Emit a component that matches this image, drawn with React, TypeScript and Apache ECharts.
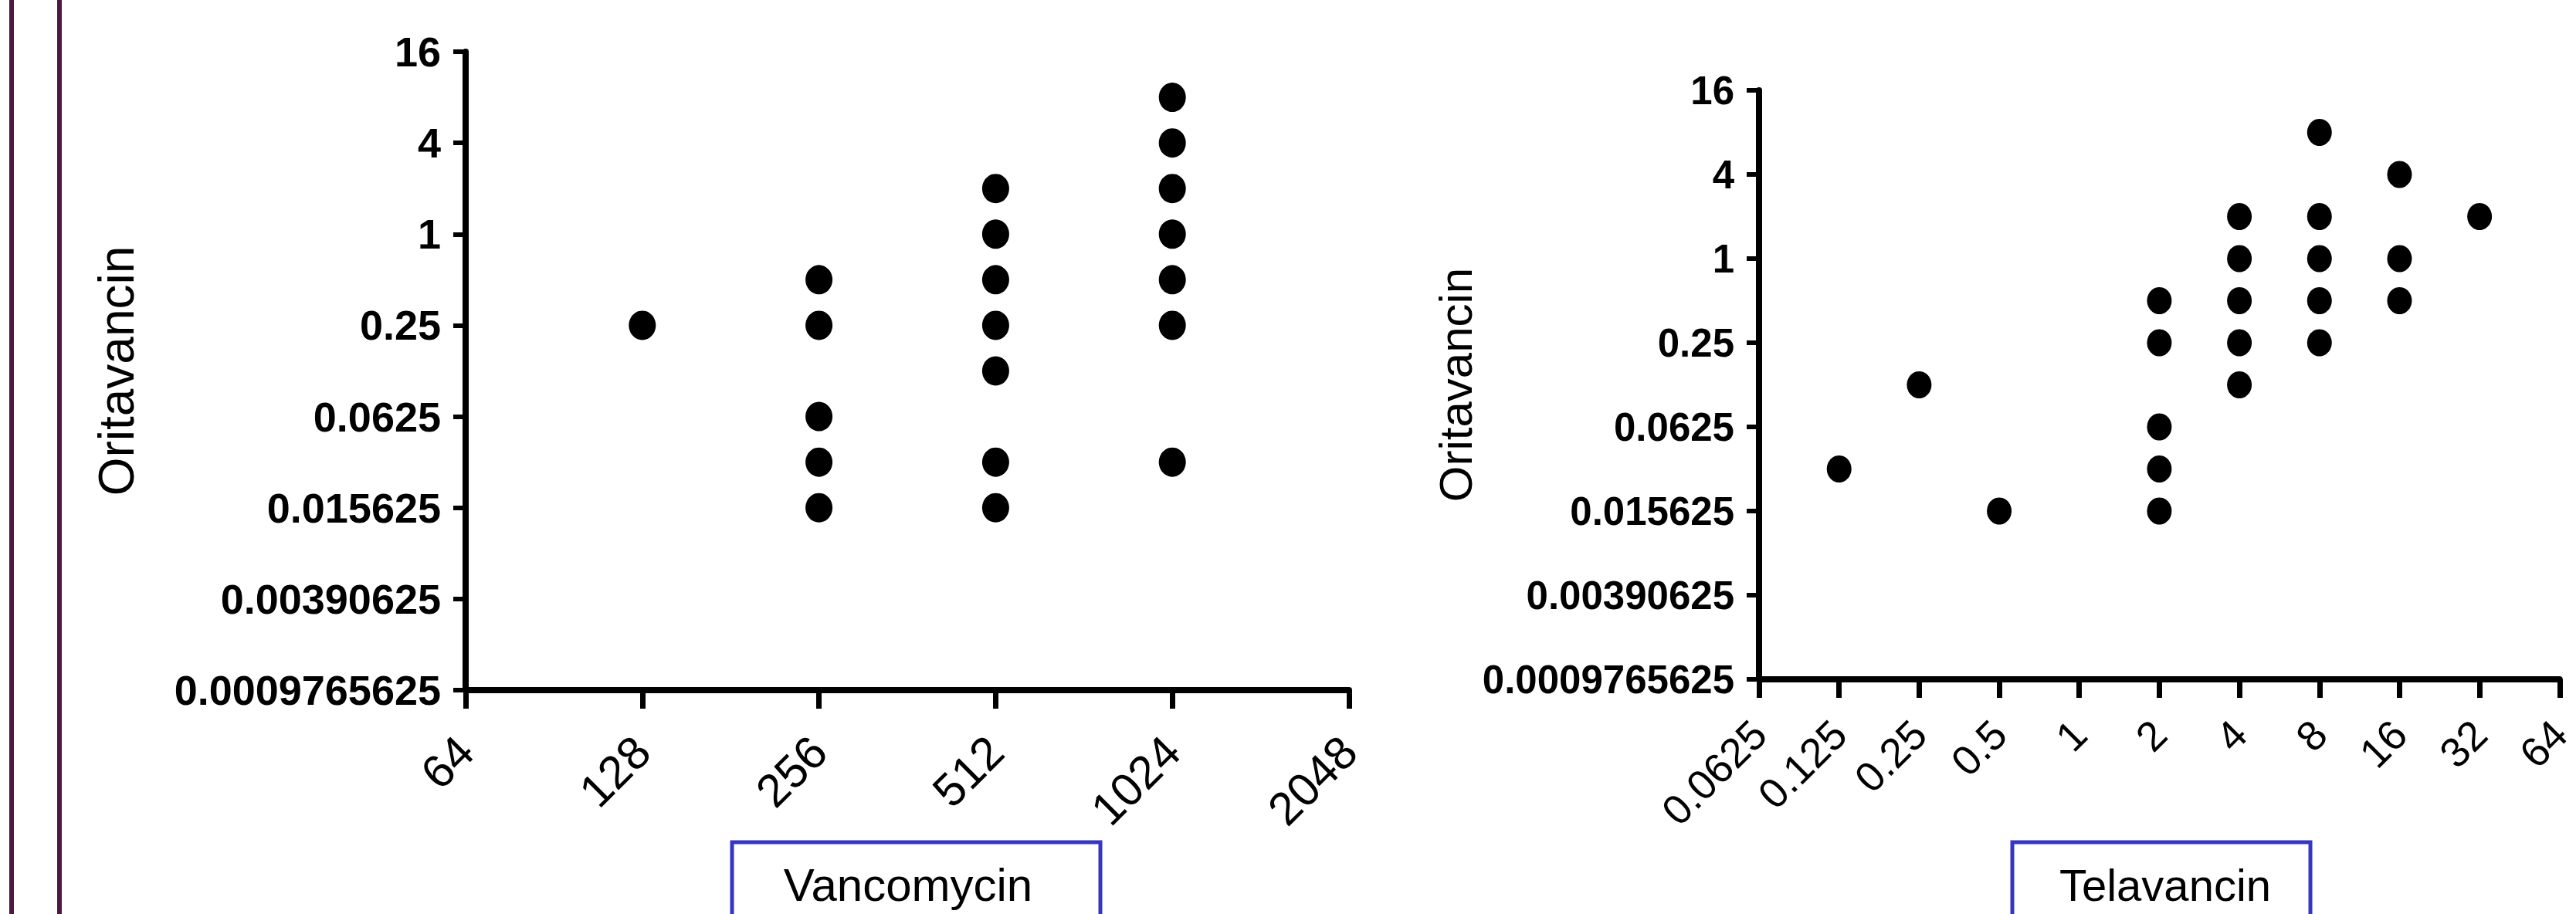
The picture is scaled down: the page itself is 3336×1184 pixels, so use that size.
import React, { useEffect, useRef } from "react";
import * as echarts from "echarts";

// Tick values and labels
const vancomycinTicks = [64, 128, 256, 512, 1024, 2048];
const vancomycinTickLabels = ["64", "128", "256", "512", "1024", "2048"];
const telavancinTicks = [0.0625, 0.125, 0.25, 0.5, 1, 2, 4, 8, 16, 32, 64];
const telavancinTickLabels = ["0.0625", "0.125", "0.25", "0.5", "1", "2", "4", "8", "16", "32", "64"];
const oritavancinTicks = [0.0009765625, 0.00390625, 0.015625, 0.0625, 0.25, 1, 4, 16];
const oritavancinTickLabels = ["0.0009765625", "0.00390625", "0.015625", "0.0625", "0.25", "1", "4", "16"];

// Left panel: Vancomycin MIC vs Oritavancin MIC
const vancomycinMIC = [
  128,
  256, 256, 256, 256, 256,
  512, 512, 512, 512, 512, 512, 512,
  1024, 1024, 1024, 1024, 1024, 1024, 1024,
];
const oritavancinVsVancomycin = [
  0.25,
  0.5, 0.25, 0.0625, 0.03125, 0.015625,
  2, 1, 0.5, 0.25, 0.125, 0.03125, 0.015625,
  8, 4, 2, 1, 0.5, 0.25, 0.03125,
];

// Right panel: Telavancin MIC vs Oritavancin MIC
const telavancinMIC = [
  0.125,
  0.25,
  0.5,
  2, 2, 2, 2, 2,
  4, 4, 4, 4, 4,
  8, 8, 8, 8, 8,
  16, 16, 16,
  32,
];
const oritavancinVsTelavancin = [
  0.03125,
  0.125,
  0.015625,
  0.5, 0.25, 0.0625, 0.03125, 0.015625,
  2, 1, 0.5, 0.25, 0.125,
  8, 2, 1, 0.5, 0.25,
  4, 1, 0.5,
  2,
];

const labelFor = (ticks: number[], labels: string[]) => (v: number) => {
  let best = 0;
  for (let i = 1; i < ticks.length; i++) {
    if (Math.abs(Math.log2(v) - Math.log2(ticks[i])) < Math.abs(Math.log2(v) - Math.log2(ticks[best]))) best = i;
  }
  return labels[best];
};

const SANS = "'Liberation Sans', Arial, sans-serif";

function yAxis(gridIndex: number, fontSize: number, nameSize: number, nameGap: number) {
  return {
    type: "log",
    logBase: 2,
    gridIndex,
    min: oritavancinTicks[0],
    max: oritavancinTicks[oritavancinTicks.length - 1],
    axisLine: { show: true, onZero: false, lineStyle: { color: "#000", width: 8 } },
    axisTick: { show: true, inside: false, length: 16, customValues: oritavancinTicks, lineStyle: { color: "#000", width: 6 } },
    axisLabel: {
      customValues: oritavancinTicks,
      formatter: labelFor(oritavancinTicks, oritavancinTickLabels),
      margin: 32,
      fontSize,
      fontWeight: "bold",
      fontFamily: SANS,
      color: "#000",
    },
    splitLine: { show: false },
    minorTick: { show: false },
    name: "Oritavancin",
    nameLocation: "middle",
    nameRotate: 90,
    nameGap,
    nameTextStyle: { fontSize: nameSize, fontFamily: SANS, color: "#000" },
  };
}

function xAxis(gridIndex: number, ticks: number[], labels: string[], fontSize: number, margin: number) {
  return {
    type: "log",
    logBase: 2,
    gridIndex,
    min: ticks[0],
    max: ticks[ticks.length - 1],
    axisLine: { show: true, onZero: false, lineStyle: { color: "#000", width: 8 } },
    axisTick: { show: true, inside: false, length: 24, customValues: ticks, lineStyle: { color: "#000", width: 7 } },
    axisLabel: {
      customValues: ticks,
      formatter: labelFor(ticks, labels),
      rotate: 45,
      margin,
      fontSize,
      fontFamily: SANS,
      color: "#000",
    },
    splitLine: { show: false },
    minorTick: { show: false },
  };
}

export default function App() {
  const ref = useRef<HTMLDivElement>(null);
  useEffect(() => {
    document.body.style.margin = "0";
    if (!ref.current) return;
    const chart = echarts.init(ref.current, null, { renderer: "svg" });
    const leftData = vancomycinMIC.map((x, i) => [x, oritavancinVsVancomycin[i]]);
    const rightData = telavancinMIC.map((x, i) => [x, oritavancinVsTelavancin[i]]);
    chart.setOption({
      animation: false,
      backgroundColor: "#fff",
      grid: [
        { left: 603, top: 67, width: 1144, height: 827, containLabel: false },
        { left: 2278, top: 117, width: 1056, height: 763, containLabel: false },
      ],
      xAxis: [
        xAxis(0, vancomycinTicks, vancomycinTickLabels, 60, 70),
        xAxis(1, telavancinTicks, telavancinTickLabels, 54, 62),
      ],
      yAxis: [yAxis(0, 54, 64, 420), yAxis(1, 51, 60, 354)],
      series: [
        {
          type: "scatter",
          name: "Vancomycin",
          xAxisIndex: 0,
          yAxisIndex: 0,
          data: leftData,
          symbol: "circle",
          symbolSize: [35, 38],
          itemStyle: { color: "#000", opacity: 1 },
        },
        {
          type: "scatter",
          name: "Telavancin",
          xAxisIndex: 1,
          yAxisIndex: 1,
          data: rightData,
          symbol: "circle",
          symbolSize: [32, 35],
          itemStyle: { color: "#000", opacity: 1 },
        },
      ],
      graphic: [
        { type: "line", shape: { x1: 15, y1: 0, x2: 15, y2: 1184 }, style: { stroke: "#52173f", lineWidth: 6 } },
        { type: "line", shape: { x1: 77, y1: 0, x2: 77, y2: 1184 }, style: { stroke: "#52173f", lineWidth: 6 } },
        {
          type: "rect",
          shape: { x: 948, y: 1091, width: 477, height: 200 },
          style: { fill: "#fff", stroke: "#3535c8", lineWidth: 5 },
        },
        {
          type: "text",
          x: 1176,
          y: 1146,
          style: { text: "Vancomycin", fontSize: 60, fontFamily: SANS, fill: "#000", align: "center", verticalAlign: "middle" },
        },
        {
          type: "rect",
          shape: { x: 2606, y: 1091, width: 386, height: 200 },
          style: { fill: "#fff", stroke: "#3535c8", lineWidth: 5 },
        },
        {
          type: "text",
          x: 2804,
          y: 1146,
          style: { text: "Telavancin", fontSize: 58, fontFamily: SANS, fill: "#000", align: "center", verticalAlign: "middle" },
        },
      ],
    });
    return () => chart.dispose();
  }, []);
  return <div ref={ref} style={{ width: 3336, height: 1184 }} />;
}
